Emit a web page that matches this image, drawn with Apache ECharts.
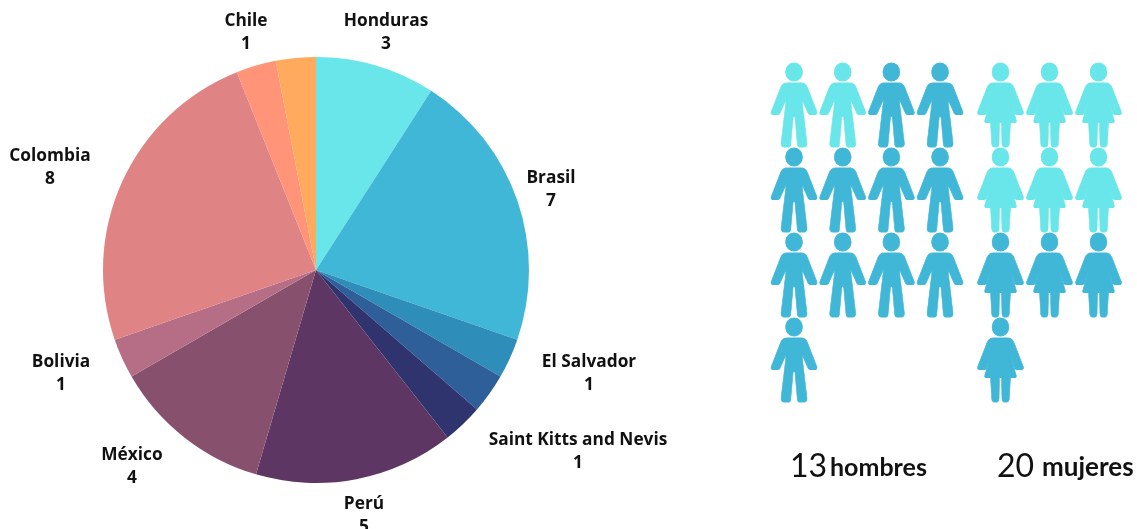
<!DOCTYPE html>
<html><head><meta charset="utf-8">
<style>html,body{margin:0;padding:0;background:#fff}#c{width:1137px;height:529px}</style>
<script src="https://cdn.jsdelivr.net/npm/echarts@6/dist/echarts.min.js"></script>
</head><body><div id="c"></div>
<script>
const countries = ['Honduras','Brasil','El Salvador','','Saint Kitts and Nevis','Perú','México','Bolivia','Colombia','Chile',''];
const counts = [3,7,1,1,1,5,4,1,8,1,1];
const sliceColors = ['#69E6EA','#41B7D7','#2E8DB9','#2F5F99','#2F336E','#5D3663','#87516E','#B56E85','#E08385','#FF9478','#FFAA5C'];
const labelCentres = [[386,33],[551,190],[589,374],null,[578,451.5],[364,516],[132,467],[61,374],[50,168],[246,33],null];

const menPerRow = [4,4,4,1];
const womenPerRow = [3,3,3,1];
const menLight = 2;
const womenLight = 6;
const lightColor = '#69E6EA', darkColor = '#41B7D7';
const menTotal = '13', womenTotal = '20';
const menWord = 'hombres', womenWord = 'mujeres';

const head = 'M23 0C28 0 31.5 4 31.5 9C31.5 14 28 18 23 18C18 18 14.5 14 14.5 9C14.5 4 18 0 23 0Z';
const manPath = 'path://' + head +
 'M16 20L30 20C33.5 20 35.5 22 36.5 24.5L46 49C46.5 51 45 51.5 43.5 51.5L39.5 51.5C38 51.5 37.5 51 37 50L31 36.5L31.5 42L36 80C36.3 83 34.5 84 33 84L28.5 84C27 84 26.5 83 26.3 81L24 55C23.8 52.5 22.2 52.5 22 55L19.7 81C19.5 83 19 84 17.5 84L13 84C11.5 84 9.7 83 10 80L14.5 42L15 36.5L9 50C8.5 51 8 51.5 6.5 51.5L2.5 51.5C1 51.5 -0.5 51 0 49L9.5 24.5C10.5 22 12.5 20 16 20Z';
const womanPath = 'path://' + head +
 'M16 20L30 20C33.5 20 35.5 22 36.5 24.5L46 49C46.5 51 45 51.5 43.5 51.5L39.5 51.5C38 51.5 37.5 51 37 50L33.2 38L38.8 57.5C39.2 59 38.5 59.5 37 59.5L33 59.5L31.8 81C31.6 83 30.5 84 29 84L27 84C25.5 84 24.7 83 24.5 81L24 59.5L22 59.5L21.5 81C21.3 83 20.5 84 19 84L17 84C15.5 84 14.4 83 14.2 81L13 59.5L9 59.5C7.5 59.5 6.8 59 7.2 57.5L12.8 38L9 50C8.5 51 8 51.5 6.5 51.5L2.5 51.5C1 51.5 -0.5 51 0 49L9.5 24.5C10.5 22 12.5 20 16 20Z';

function people(perRow, light){
  const out=[]; let n=0;
  perRow.forEach((k,r)=>{ for(let c=0;c<k;c++){ const col=n<light?lightColor:darkColor; out.push({value:[c,r],itemStyle:{color:col,opacity:1,borderColor:col,borderWidth:0.8}}); n++; } });
  return out;
}
const idx = n => Array.from({length:n},(_,i)=>i);
const hiddenAxis = {type:'category',show:false,axisLine:{show:false},axisTick:{show:false},axisLabel:{show:false},splitLine:{show:false}};
const labelFont = '"Open Sans"';
const numStyle = {fontFamily:'Lato',fontWeight:'normal',fontSize:32,color:'#111'};
const wordStyle = {fontFamily:'Lato',fontWeight:'bold',color:'#111'};

const chart = echarts.init(document.getElementById('c'),null,{renderer:'canvas'});
chart.setOption({
  animation:false,
  backgroundColor:'#fff',
  grid:[
    {left:769.7,top:62.5,width:194.7,height:340},
    {left:976,top:62.5,width:147,height:340}
  ],
  xAxis:[
    Object.assign({},hiddenAxis,{gridIndex:0,data:idx(4)}),
    Object.assign({},hiddenAxis,{gridIndex:1,data:idx(3)})
  ],
  yAxis:[
    Object.assign({},hiddenAxis,{gridIndex:0,data:idx(4),inverse:true}),
    Object.assign({},hiddenAxis,{gridIndex:1,data:idx(4),inverse:true})
  ],
  title:[
    {left:790,top:451,padding:0,text:menTotal,textStyle:numStyle},
    {left:830,top:455,padding:0,text:menWord,textStyle:Object.assign({fontSize:25},wordStyle)},
    {left:997,top:451,padding:0,text:womenTotal,textStyle:numStyle},
    {left:1042,top:455,padding:0,text:womenWord,textStyle:Object.assign({fontSize:26},wordStyle)}
  ],
  series:[
    {type:'pie',center:[316,270],radius:[0,213],startAngle:90,silent:true,
     data:countries.map((name,i)=>({name:name,value:counts[i],itemStyle:{color:sliceColors[i]},
        label:{show:!!labelCentres[i]}})),
     label:{position:'outside',overflow:'none',formatter:'{b}\n{c}',fontFamily:labelFont,fontWeight:'bold',fontSize:17.3,lineHeight:23,color:'#111',align:'center'},
     labelLine:{show:false},
     labelLayout:p=>{const c=labelCentres[p.dataIndex];return c?{x:c[0],y:c[1],align:'center',verticalAlign:'middle',hideOverlap:false}:{};}
    },
    {type:'scatter',xAxisIndex:0,yAxisIndex:0,symbol:manPath,symbolSize:[46,84],silent:true,data:people(menPerRow,menLight)},
    {type:'scatter',xAxisIndex:1,yAxisIndex:1,symbol:womanPath,symbolSize:[46,84],silent:true,data:people(womenPerRow,womenLight)}
  ]
});
</script></body></html>
